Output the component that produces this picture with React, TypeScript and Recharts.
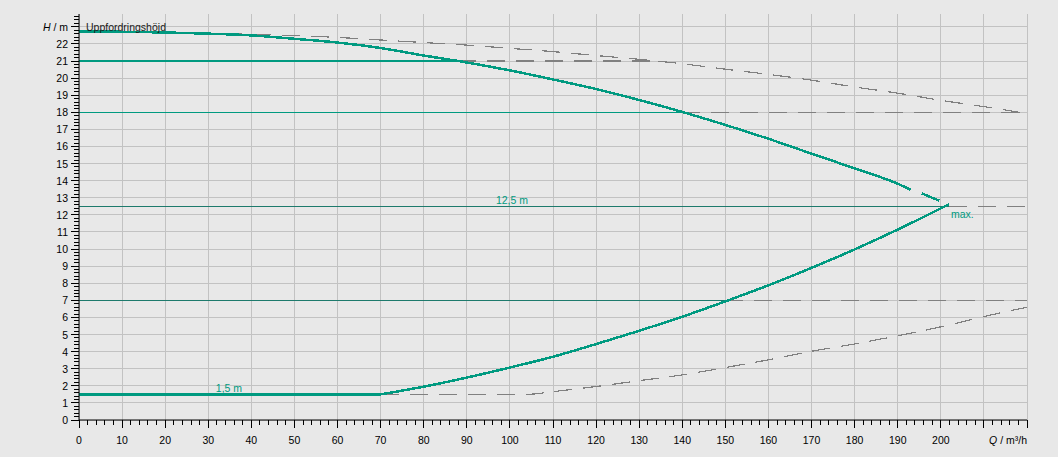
import React from 'react';
import { LineChart, Line, XAxis, YAxis, CartesianGrid } from 'recharts';

const TEAL = '#009a80';
const TEAL_DARK = '#1d7a6c';
const GREY_DASH = '#808080';
const FONT = '"Liberation Sans", Arial, sans-serif';

// max. speed pump curve (grey, dashed)
const maxCurve = [
  { q: 0, h: 22.7 }, { q: 10, h: 22.69 }, { q: 20, h: 22.67 }, { q: 30, h: 22.63 },
  { q: 40, h: 22.57 }, { q: 50, h: 22.49 }, { q: 60, h: 22.38 }, { q: 70, h: 22.23 },
  { q: 80, h: 22.08 }, { q: 90, h: 21.93 }, { q: 100, h: 21.74 }, { q: 110, h: 21.55 },
  { q: 120, h: 21.32 }, { q: 130, h: 21.1 }, { q: 140, h: 20.84 }, { q: 150, h: 20.52 },
  { q: 160, h: 20.22 }, { q: 170, h: 19.88 }, { q: 180, h: 19.48 }, { q: 190, h: 19.12 },
  { q: 200, h: 18.7 }, { q: 210, h: 18.33 }, { q: 220, h: 17.93 },
];

// operating pump curve (teal)
const pumpCurve = [
  { q: 0, h: 22.72 }, { q: 10, h: 22.71 }, { q: 20, h: 22.67 }, { q: 30, h: 22.6 },
  { q: 40, h: 22.5 }, { q: 50, h: 22.3 }, { q: 60, h: 22.08 }, { q: 70, h: 21.76 },
  { q: 80, h: 21.32 }, { q: 88, h: 21.0 }, { q: 100, h: 20.45 }, { q: 110, h: 19.92 },
  { q: 120, h: 19.36 }, { q: 130, h: 18.72 }, { q: 140, h: 18.02 }, { q: 150, h: 17.26 },
  { q: 160, h: 16.45 }, { q: 170, h: 15.58 }, { q: 180, h: 14.72 }, { q: 190, h: 13.82 },
  { q: 193, h: 13.47 }, { q: 194.3, h: null }, { q: 195.6, h: 13.26 }, { q: 199.6, h: 12.83 },
];

// system curve (teal) and its continuation (grey dashed)
const systemCurve = [
  { q: 70, h: 1.5 }, { q: 80, h: 1.95 }, { q: 90, h: 2.48 }, { q: 100, h: 3.07 },
  { q: 110, h: 3.7 }, { q: 120, h: 4.44 }, { q: 130, h: 5.22 }, { q: 140, h: 6.04 },
  { q: 150, h: 6.94 }, { q: 160, h: 7.88 }, { q: 170, h: 8.9 }, { q: 180, h: 9.98 },
  { q: 190, h: 11.14 }, { q: 201.9, h: 12.62 },
];
const systemDash = [
  { q: 70, h: 1.5 }, { q: 104, h: 1.5 }, { q: 110, h: 1.66 }, { q: 120, h: 1.96 },
  { q: 130, h: 2.3 }, { q: 140, h: 2.64 }, { q: 150, h: 3.07 }, { q: 160, h: 3.52 },
  { q: 170, h: 4.02 }, { q: 180, h: 4.45 }, { q: 190, h: 4.93 }, { q: 200, h: 5.45 },
  { q: 210, h: 6.05 }, { q: 220, h: 6.6 },
];

// horizontal levels: solid part and dashed continuation
const h21Solid = [{ q: 0, h: 21 }, { q: 88, h: 21 }];
const h21Dash = [{ q: 88, h: 21 }, { q: 135, h: 21 }];
const h18Solid = [{ q: 0, h: 18 }, { q: 140, h: 18 }];
const h18Dash = [{ q: 140, h: 18 }, { q: 220, h: 18 }];
const h125Solid = [{ q: 0, h: 12.5 }, { q: 201.9, h: 12.5 }];
const h125Dash = [{ q: 201.9, h: 12.5 }, { q: 220, h: 12.5 }];
const h7Solid = [{ q: 0, h: 7 }, { q: 150, h: 7 }];
const h7Dash = [{ q: 150, h: 7 }, { q: 220, h: 7 }];
const h15Solid = [{ q: 0, h: 1.5 }, { q: 70, h: 1.5 }];

// ticks
const xGrid = [0, 10, 20, 30, 40, 50, 60, 70, 80, 90, 100, 110, 120, 130, 140, 150, 160, 170, 180, 190, 200, 210, 220];
const xLabels = [0, 10, 20, 30, 40, 50, 60, 70, 80, 90, 100, 110, 120, 130, 140, 150, 160, 170, 180, 190, 200];
const xTicks = Array.from({ length: 111 }, (_, i) => i * 2);
const yGrid = [0, 1, 2, 3, 4, 5, 6, 7, 8, 9, 10, 11, 12, 13, 14, 15, 16, 17, 18, 19, 20, 21, 22, 23];
const yLabels = [0, 1, 2, 3, 4, 5, 6, 7, 8, 9, 10, 11, 12, 13, 14, 15, 16, 17, 18, 19, 20, 21, 22];
const yTicks = Array.from({ length: 119 }, (_, i) => Math.round(i * 2) / 10);

const X_DOMAIN = [0, 220];
const Y_DOMAIN = [0, 23.75];

const XTick = (props: any) => {
  const { x, y, payload } = props;
  const v = payload.value;
  const major = v % 10 === 0;
  return (
    <g>
      <line x1={x} y1={y} x2={x} y2={y + (major ? 8 : 5)} stroke="#000" shapeRendering="crispEdges" />
      {xLabels.includes(v) && (
        <text x={x} y={y + 24} textAnchor="middle" fontSize={10.5} fontFamily={FONT} fill="#000">{v}</text>
      )}
      {v === 220 && (
        <text x={x} y={y + 24} textAnchor="end" fontSize={10.5} fontFamily={FONT} fill="#000">
          <tspan fontStyle="italic">Q</tspan> / m³/h
        </text>
      )}
    </g>
  );
};

const YTick = (props: any) => {
  const { x, y, payload } = props;
  const v = payload.value;
  const major = Math.abs(v - Math.round(v)) < 1e-6;
  const r = Math.round(v);
  return (
    <g>
      <line x1={x - (major ? 8 : 5)} y1={y} x2={x} y2={y} stroke="#000" shapeRendering="crispEdges" />
      {major && yLabels.includes(r) && (
        <text x={x - 11} y={y + 4} textAnchor="end" fontSize={10.5} fontFamily={FONT} fill="#000">{r}</text>
      )}
      {major && r === 23 && (
        <text x={x - 11} y={y + 4} textAnchor="end" fontSize={10.5} fontFamily={FONT} fill="#000">
          <tspan fontStyle="italic">H</tspan> / m
        </text>
      )}
    </g>
  );
};

// grid positions through the axis scale, with a linear fallback over the plot area
const gridX = ({ xAxis, offset }: any) => {
  const s = xAxis?.scale;
  return xGrid.map((v) =>
    typeof s === 'function' ? s(v) : offset.left + ((v - X_DOMAIN[0]) / (X_DOMAIN[1] - X_DOMAIN[0])) * offset.width
  );
};
const gridY = ({ yAxis, offset }: any) => {
  const s = yAxis?.scale;
  return yGrid.map((v) =>
    typeof s === 'function'
      ? s(v)
      : offset.top + offset.height - ((v - Y_DOMAIN[0]) / (Y_DOMAIN[1] - Y_DOMAIN[0])) * offset.height
  );
};

const seg = (data: any[], stroke: string, width: number, dashed = false, type: any = 'linear') => (
  <Line
    data={data}
    dataKey="h"
    type={type}
    stroke={stroke}
    strokeWidth={width}
    strokeDasharray={dashed ? '18 11' : undefined}
    dot={false}
    activeDot={false}
    isAnimationActive={false}
    shapeRendering="crispEdges"
  />
);

export default function App() {
  return (
    <div style={{ position: 'absolute', left: 0, top: 0, width: 1058, height: 457, background: '#e8e8e8', overflow: 'hidden' }}>
      <LineChart width={1058} height={457} margin={{ top: 14, right: 31, bottom: 0, left: 0 }}>
        <CartesianGrid
          stroke="#c2c2c2"
          strokeWidth={1}
          shapeRendering="crispEdges"
          verticalCoordinatesGenerator={gridX}
          horizontalCoordinatesGenerator={gridY}
        />
        <XAxis
          dataKey="q"
          type="number"
          domain={X_DOMAIN}
          allowDataOverflow
          ticks={xTicks}
          interval={0}
          height={37}
          tickLine={false}
          tickSize={0}
          tickMargin={0}
          tick={<XTick />}
          axisLine={{ stroke: '#000' }}
        />
        <XAxis
          xAxisId="t"
          orientation="top"
          dataKey="q"
          type="number"
          domain={X_DOMAIN}
          allowDataOverflow
          ticks={xGrid}
          interval={0}
          height={0}
          tick={false}
          tickLine={false}
          axisLine={{ stroke: '#000' }}
        />
        <YAxis
          type="number"
          domain={Y_DOMAIN}
          allowDataOverflow
          ticks={yTicks}
          interval={0}
          width={79}
          tickLine={false}
          tickSize={0}
          tickMargin={0}
          tick={<YTick />}
          axisLine={{ stroke: '#000' }}
        />
        <YAxis
          yAxisId="r"
          orientation="right"
          type="number"
          domain={Y_DOMAIN}
          allowDataOverflow
          ticks={yGrid}
          interval={0}
          width={0}
          tick={false}
          tickLine={false}
          axisLine={{ stroke: '#000' }}
        />
        {seg(maxCurve, GREY_DASH, 1.2, true, 'monotone')}
        {seg(systemDash, GREY_DASH, 1.2, true, 'monotone')}
        {seg(h21Dash, GREY_DASH, 1.2, true)}
        {seg(h18Dash, GREY_DASH, 1.2, true)}
        {seg(h125Dash, GREY_DASH, 1.2, true)}
        {seg(h7Dash, GREY_DASH, 1.2, true)}
        {seg(h18Solid, TEAL, 1)}
        {seg(h125Solid, TEAL_DARK, 1)}
        {seg(h7Solid, TEAL_DARK, 1)}
        {seg(h21Solid, TEAL, 2.5)}
        {seg(h15Solid, TEAL, 2.5)}
        {seg(pumpCurve, TEAL, 2.5, false, 'monotone')}
        {seg(systemCurve, TEAL, 2.5, false, 'monotone')}
      </LineChart>
      <svg width={1058} height={457} style={{ position: 'absolute', left: 0, top: 0, pointerEvents: 'none' }}>
        <text x={86} y={31} fontSize={10.5} fontFamily={FONT} fill="#1a1a1a">Uppfordringshöjd</text>
        <text x={512} y={204} textAnchor="middle" fontSize={10.5} fontFamily={FONT} fill={TEAL}>12,5 m</text>
        <text x={229} y={392} textAnchor="middle" fontSize={10.5} fontFamily={FONT} fill={TEAL}>1,5 m</text>
        <text x={951} y={218} fontSize={10.5} fontFamily={FONT} fill={TEAL}>max.</text>
      </svg>
    </div>
  );
}
